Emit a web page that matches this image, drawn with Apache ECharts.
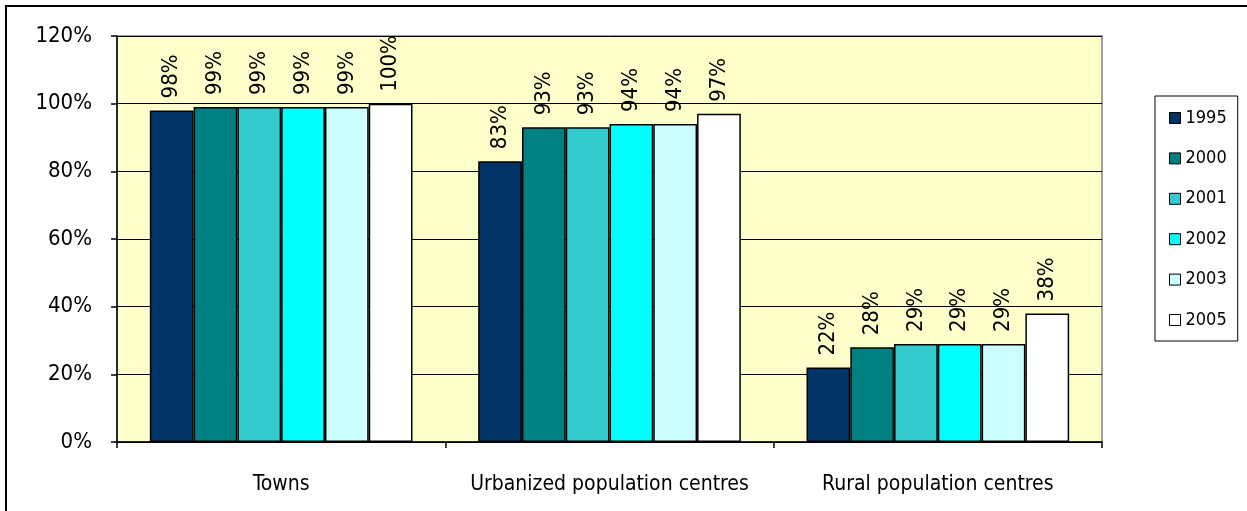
<!DOCTYPE html>
<html>
<head>
<meta charset="utf-8">
<script src="https://cdn.jsdelivr.net/npm/echarts@6/dist/echarts.min.js"></script>
<style>
  html, body { margin: 0; padding: 0; background: #fff; }
  #chart { width: 1247px; height: 511px; }
</style>
</head>
<body>
<div id="chart"></div>
<script>
const categories = ['Towns', 'Urbanized population centres', 'Rural population centres'];
const years = ['1995', '2000', '2001', '2002', '2003', '2005'];
const v1995 = [98, 83, 22];
const v2000 = [99, 93, 28];
const v2001 = [99, 93, 29];
const v2002 = [99, 94, 29];
const v2003 = [99, 94, 29];
const v2005 = [100, 97, 38];
const yTicks = [0, 20, 40, 60, 80, 100, 120];
const seriesValues = [v1995, v2000, v2001, v2002, v2003, v2005];
const colors = ['#003366', '#008080', '#33CCCC', '#00FFFF', '#CCFFFF', '#FFFFFF'];

const FONT = "'DejaVu Sans Condensed', 'Liberation Sans', sans-serif";

const chart = echarts.init(document.getElementById('chart'), null, { renderer: 'canvas' });

const series = years.map((y, i) => ({
  name: y,
  type: 'bar',
  data: seriesValues[i],
  barGap: '0%',
  barCategoryGap: '20%',
  itemStyle: { color: colors[i], borderColor: '#000', borderWidth: 1.5 },
  label: {
    show: true,
    position: 'top',
    rotate: 90,
    align: 'left',
    verticalAlign: 'middle',
    distance: 12,
    formatter: p => p.value + '%',
    fontFamily: FONT,
    fontSize: 22,
    color: '#000'
  }
}));

chart.setOption({
  animation: false,
  backgroundColor: '#fff',
  textStyle: { fontFamily: FONT },
  grid: {
    left: 117, right: 145, top: 36, bottom: 69,
    show: true, backgroundColor: '#FFFFCC', borderColor: '#808080', borderWidth: 1.5
  },
  legend: {
    orient: 'vertical',
    left: 1155,
    top: 96,
    padding: [13, 11, 12, 14],
    itemGap: 22.4,
    itemWidth: 11,
    itemHeight: 11,
    itemTextGap: 4,
    icon: 'rect',
    borderColor: '#000',
    borderWidth: 1,
    textStyle: { fontFamily: FONT, fontSize: 18, color: '#000' },
    data: years.map((y, i) => ({ name: y, itemStyle: { color: colors[i], borderColor: '#000', borderWidth: 1 } }))
  },
  xAxis: {
    type: 'category',
    data: categories,
    axisLine: { lineStyle: { color: '#000', width: 1.5 } },
    axisTick: { show: true, length: 6, lineStyle: { color: '#000', width: 1.5 } },
    axisLabel: { interval: 0, margin: 32, fontFamily: FONT, fontSize: 21, color: '#000' },
    splitLine: { show: false }
  },
  yAxis: {
    type: 'value',
    min: 0,
    max: 120,
    interval: 20,
    axisLine: { show: true, lineStyle: { color: '#000', width: 1.5 } },
    axisTick: { show: true, length: 6, lineStyle: { color: '#000', width: 1.5 } },
    axisLabel: {
      margin: 25, fontFamily: FONT, fontSize: 22, color: '#000',
      formatter: v => (yTicks.indexOf(v) >= 0 ? v + '%' : '')
    },
    splitLine: { show: true, lineStyle: { color: '#000', width: 1 } }
  },
  graphic: [{
    type: 'rect',
    shape: { x: 6, y: 6, width: 1260, height: 530 },
    style: { fill: null, stroke: '#000', lineWidth: 2 },
    silent: true,
    z: 100
  }],
  series: series
});
</script>
</body>
</html>
